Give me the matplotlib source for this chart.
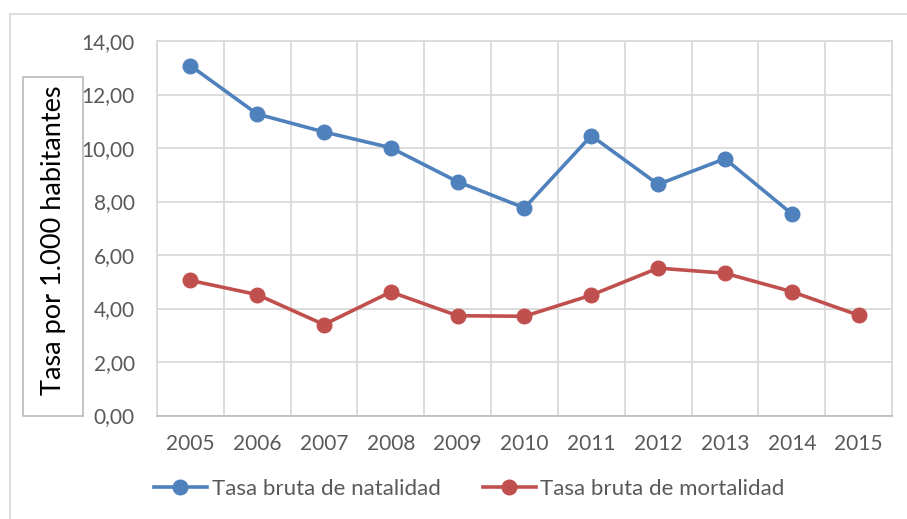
"""
Tasa bruta de natalidad y mortalidad 2005-2015
"""

import matplotlib
matplotlib.use('Agg')
import matplotlib.pyplot as plt
from matplotlib.patches import Rectangle
from matplotlib.ticker import FuncFormatter

years = ['2005', '2006', '2007', '2008', '2009', '2010',
         '2011', '2012', '2013', '2014', '2015']
natalidad = [13.08, 11.27, 10.60, 10.01, 8.74, 7.76, 10.46, 8.64, 9.60, 7.54]
mortalidad = [5.05, 4.52, 3.40, 4.62, 3.73, 3.71, 4.50, 5.51, 5.32, 4.63, 3.75]
y_ticks = [0, 2, 4, 6, 8, 10, 12, 14]

BLUE = '#4F81BD'
RED = '#C0504D'
GRID = '#D9D9D9'
TEXT = '#595959'

plt.rcParams['font.family'] = ['Lato', 'DejaVu Sans']

fig = plt.figure(figsize=(9.07, 5.19), dpi=100)
ax = fig.add_axes([0.173, 0.1994, 0.8105, 0.7216])

# outer chart frame (cropped at right and bottom)
fig.patches.append(Rectangle((10 / 907, -0.05), 1.0, 1 - 14 / 519 + 0.05,
                             transform=fig.transFigure, fill=False,
                             edgecolor=GRID, linewidth=1.3, zorder=-2))

x_nat = list(range(len(natalidad)))
x_mor = list(range(len(mortalidad)))
ax.plot(x_nat, natalidad, color=BLUE, linewidth=2.6, marker='o',
        markersize=10.5, label='Tasa bruta de natalidad', zorder=3)
ax.plot(x_mor, mortalidad, color=RED, linewidth=2.6, marker='o',
        markersize=10.5, label='Tasa bruta de mortalidad', zorder=3)

ax.set_xlim(-0.5, len(years) - 0.5)
ax.set_ylim(0, 14)
ax.set_yticks(y_ticks)
ax.yaxis.set_major_formatter(FuncFormatter(lambda v, p: f"{v:.2f}".replace('.', ',')))
ax.set_xticks(range(len(years)))
ax.set_xticklabels(years)
ax.set_xticks([i - 0.5 for i in range(len(years) + 1)], minor=True)

ax.grid(True, axis='y', color=GRID, linewidth=1.3, zorder=0)
ax.grid(True, axis='x', which='minor', color=GRID, linewidth=1.3, zorder=0)
ax.grid(False, axis='x', which='major')
for side in ['top', 'right', 'left']:
    ax.spines[side].set_color(GRID)
    ax.spines[side].set_linewidth(1.3)
ax.spines['bottom'].set_color('#BFBFBF')
ax.spines['bottom'].set_linewidth(1.3)

ax.tick_params(axis='both', which='both', length=0, labelsize=15,
               labelcolor=TEXT)
ax.tick_params(axis='y', pad=16)
ax.tick_params(axis='x', pad=13)

# y-axis title in a box, drawn beneath the tick labels
fig.patches.append(Rectangle((23 / 907, 1 - 416 / 519), 60 / 907, 339 / 519,
                             transform=fig.transFigure, fill=True,
                             facecolor='white', edgecolor='#BFBFBF',
                             linewidth=1.3, zorder=-1))
fig.text(53 / 907, 1 - 240 / 519, 'Tasa por 1.000 habitantes', rotation=90,
         ha='center', va='center', fontsize=19.5, color='black')

ax.legend(loc='upper center', bbox_to_anchor=(0.425, -0.115), ncol=2,
          frameon=False, fontsize=16, labelcolor=TEXT, handlelength=2.4,
          handletextpad=0.2, columnspacing=1.9)

fig.savefig('out.png', dpi=100)
